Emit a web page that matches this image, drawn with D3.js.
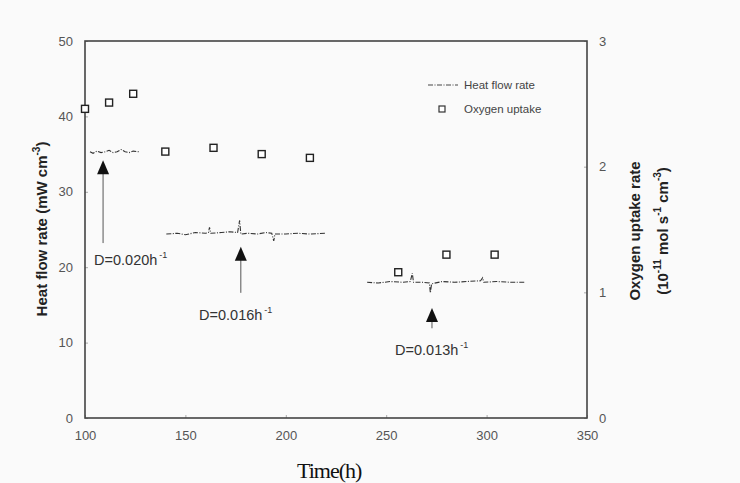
<!DOCTYPE html>
<html>
<head>
<meta charset="utf-8">
<script src="https://cdn.jsdelivr.net/npm/d3@7"></script>
<style>
  body { margin: 0; background: #fafafa; }
  svg { display: block; }
  text { font-family: Arial, "Liberation Sans", sans-serif; }
</style>
</head>
<body>
<script>
// time axis ticks and range
const xTicks = [100, 150, 200, 250, 300, 350]
const leftTicks = [0, 10, 20, 30, 40, 50]
const rightTicks = [0, 1, 2, 3]

// oxygen uptake (10^-11 mol s-1 cm-3), read from the squares
const o2Time = [100, 112, 124, 140, 164, 188, 212, 256, 280, 304]
const o2Rate = [2.46, 2.51, 2.58, 2.12, 2.15, 2.10, 2.07, 1.16, 1.30, 1.30]

// heat flow rate (mW cm-3), three steady states
const heat1 = [[102.5,35.3],[104,35.1],[106,35.4],[108,35.2],[110,35.3],[112,35.5],[114,35.2],[116,35.3],[118,35.6],[120,35.3],[122,35.2],[124,35.4],[127,35.3]]
const heat2 = [[140.5,24.4],[146,24.5],[150,24.3],[155,24.6],[160,24.5],[161.5,24.6],[162,25.3],[162.6,24.5],[168,24.6],[172,24.7],[176,24.6],[177,26.2],[177.6,24.4],[181,24.5],[186,24.4],[190,24.6],[193,24.5],[194,23.5],[194.6,24.4],[200,24.4],[206,24.5],[212,24.4],[219.5,24.5]]
const heat3 = [[240.5,18.0],[246,17.9],[252,18.1],[258,18.0],[262,18.1],[263,19.2],[263.6,18.0],[268,18.0],[271.5,17.9],[272,16.6],[272.6,17.8],[278,18.1],[284,18.0],[290,18.1],[297,18.2],[298,18.6],[298.6,18.0],[305,18.1],[312,18.0],[319,18.0]]
const heatSeries = [heat1, heat2, heat3]

// dilution-rate annotations: arrow x, tip y, tail y, label x, label y (data units)
const arrowX = [109, 177.6, 272.8]
const arrowTip = [34.2, 22.7, 14.6]
const arrowTail = [23.2, 16.6, 11.9]
const dLabels = ["D=0.020h", "D=0.016h", "D=0.013h"]
const dLabelX = [104.5, 156.8, 254.4]
const dLabelY = [20.3, 13.0, 8.4]

const width = 740, height = 483
const margin = {top: 41, right: 153, bottom: 65, left: 85}

const svg = d3.select("body").append("svg")
  .attr("width", width).attr("height", height)

const x = d3.scaleLinear().domain([100, 350]).range([margin.left, width - margin.right])
const yL = d3.scaleLinear().domain([0, 50]).range([height - margin.bottom, margin.top])
const yR = d3.scaleLinear().domain([0, 3]).range([height - margin.bottom, margin.top])

const tickStyle = g => {
  g.select(".domain").remove()
  g.selectAll(".tick line").attr("stroke", "#aaa")
  g.selectAll(".tick text").attr("fill", "#555").style("font-size", "13px")
}

svg.append("g")
  .attr("transform", `translate(0,${height - margin.bottom})`)
  .call(d3.axisBottom(x).tickValues(xTicks).tickSizeInner(-3).tickPadding(13).tickSizeOuter(0))
  .call(tickStyle)

svg.append("g")
  .attr("transform", `translate(${margin.left},0)`)
  .call(d3.axisLeft(yL).tickValues(leftTicks).tickSizeInner(-3).tickPadding(12).tickSizeOuter(0))
  .call(tickStyle)

svg.append("g")
  .attr("transform", `translate(${width - margin.right},0)`)
  .call(d3.axisRight(yR).tickValues(rightTicks).tickFormat(d3.format("d")).tickSizeInner(-3).tickPadding(12).tickSizeOuter(0))
  .call(tickStyle)

// frame
svg.append("rect")
  .attr("x", x(100)).attr("y", yL(50))
  .attr("width", x(350) - x(100)).attr("height", yL(0) - yL(50))
  .attr("fill", "none").attr("stroke", "#444").attr("stroke-width", 1.6)

// heat flow lines
const line = d3.line().x(d => x(d[0])).y(d => yL(d[1]))
svg.append("g").selectAll("path")
  .data(heatSeries).join("path")
  .attr("d", line)
  .attr("fill", "none").attr("stroke", "#333").attr("stroke-width", 1.1)
  .attr("stroke-dasharray", "5,1.5,1,1.5")

// oxygen uptake squares
svg.append("g").selectAll("rect")
  .data(o2Time.map((t, i) => [t, o2Rate[i]])).join("rect")
  .attr("x", d => x(d[0]) - 3.5).attr("y", d => yR(d[1]) - 3.5)
  .attr("width", 7).attr("height", 7)
  .attr("fill", "#fff").attr("stroke", "#222").attr("stroke-width", 1.4)

// arrows
const arrows = svg.append("g")
arrowX.forEach((ax, i) => {
  const px = x(ax), tip = yL(arrowTip[i]), tail = yL(arrowTail[i])
  arrows.append("line")
    .attr("x1", px).attr("x2", px).attr("y1", tip + 10).attr("y2", tail)
    .attr("stroke", "#555").attr("stroke-width", 1)
  arrows.append("path")
    .attr("d", `M${px},${tip}L${px - 6},${tip + 14}L${px + 6},${tip + 14}Z`)
    .attr("fill", "#111")
  const t = arrows.append("text")
    .attr("x", x(dLabelX[i])).attr("y", yL(dLabelY[i]))
    .attr("fill", "#333").style("font-size", "14.5px")
    .text(dLabels[i])
  t.append("tspan").attr("dx", 2).attr("dy", -7).style("font-size", "9px").text("-1")
})

// legend
const lg = svg.append("g").attr("transform", "translate(428,85)")
lg.append("line").attr("x1", 0).attr("x2", 30).attr("y1", 0).attr("y2", 0)
  .attr("stroke", "#444").attr("stroke-width", 1).attr("stroke-dasharray", "5,1.5,1,1.5")
lg.append("text").attr("x", 36).attr("y", 4).attr("fill", "#444").style("font-size", "11.5px").text("Heat flow rate")
lg.append("rect").attr("x", 11).attr("y", 21).attr("width", 6).attr("height", 6)
  .attr("fill", "#fff").attr("stroke", "#333").attr("stroke-width", 1.2)
lg.append("text").attr("x", 36).attr("y", 28).attr("fill", "#444").style("font-size", "11.5px").text("Oxygen uptake")

// axis titles
const lt = svg.append("text")
  .attr("transform", "translate(47,229) rotate(-90)")
  .attr("text-anchor", "middle").attr("fill", "#222")
  .style("font-size", "15px").style("font-weight", "bold")
  .text("Heat flow rate (mW cm")
lt.append("tspan").attr("dy", -7).style("font-size", "10px").text("-3")
lt.append("tspan").attr("dy", 7).text(")")

const rt = svg.append("text")
  .attr("transform", "translate(640,231) rotate(-90)")
  .attr("text-anchor", "middle").attr("fill", "#222")
  .style("font-size", "15px").style("font-weight", "bold")
rt.append("tspan").attr("x", 0).attr("y", 0).text("Oxygen uptake rate")
const rt2 = rt.append("tspan").attr("x", 0).attr("y", 28).text("(10")
rt2.append("tspan").attr("dy", -7).style("font-size", "10px").text("-11")
rt.append("tspan").attr("dy", 7).text(" mol s")
rt.append("tspan").attr("dy", -7).style("font-size", "10px").text("-1")
rt.append("tspan").attr("dy", 7).text(" cm")
rt.append("tspan").attr("dy", -7).style("font-size", "10px").text("-3")
rt.append("tspan").attr("dy", 7).text(")")

// x title, set tight like the scan
svg.append("text")
  .attr("x", 297).attr("y", 478).attr("fill", "#111")
  .style("font-family", "'Liberation Serif', 'Times New Roman', serif").style("font-size", "22px")
  .style("letter-spacing", "-1px")
  .text("Time(h)")
</script>
</body>
</html>
